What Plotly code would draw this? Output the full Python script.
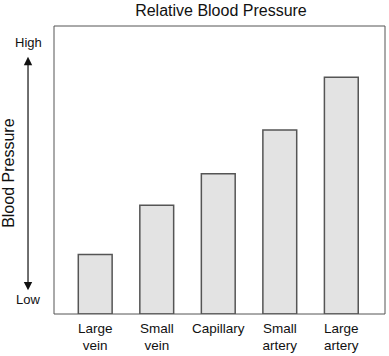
import plotly.graph_objects as go

categories = ["Large<br>vein", "Small<br>vein", "Capillary", "Small<br>artery", "Large<br>artery"]
pressure = [20.7, 37.8, 48.7, 63.9, 82.2]

FONT = "Liberation Sans, Arial, sans-serif"

fig = go.Figure(go.Bar(
    x=list(range(len(categories))),
    y=pressure,
    width=0.55,
    marker=dict(color="#e3e3e3", line=dict(color="#555555", width=1.5)),
))

fig.update_layout(
    width=389, height=356,
    margin=dict(l=54, r=4, t=26, b=42),
    paper_bgcolor="white", plot_bgcolor="white",
    showlegend=False,
    font=dict(family=FONT, size=13, color="#111111"),
    title=dict(text="Relative Blood Pressure", x=0.568, xanchor="center",
               y=0.972, yanchor="middle", font=dict(size=16, family=FONT, color="#111111")),
    xaxis=dict(range=[-0.67, 4.71], tickmode="array",
               tickvals=list(range(len(categories))), ticktext=categories,
               showgrid=False, zeroline=False, showline=False, ticks="",
               ticklabelstandoff=4, tickfont=dict(size=13.5)),
    yaxis=dict(range=[0, 100], showticklabels=False, showgrid=False,
               zeroline=False, showline=False, ticks=""),
    shapes=[dict(type="rect", xref="paper", yref="paper", x0=0, x1=1, y0=0, y1=1,
                 line=dict(color="#555555", width=1))],
    annotations=[
        dict(xref="paper", yref="paper", x=-0.0785, y=0.893, ax=0, ay=235,
             text="", showarrow=True, arrowhead=2, arrowside="end+start",
             arrowsize=1.4, arrowwidth=1.2, arrowcolor="#111111"),
        dict(xref="paper", yref="paper", x=-0.0785, y=0.941, text="High",
             showarrow=False, font=dict(size=13), xanchor="center", yanchor="middle"),
        dict(xref="paper", yref="paper", x=-0.0785, y=0.049, text="Low",
             showarrow=False, font=dict(size=13), xanchor="center", yanchor="middle"),
        dict(xref="paper", yref="paper", x=-0.136, y=0.49, text="Blood Pressure",
             textangle=-90, showarrow=False, font=dict(size=16),
             xanchor="center", yanchor="middle"),
    ],
)

fig.write_html("out.html", config={"displayModeBar": False},
               post_script="document.body.style.margin='0';document.body.style.overflow='hidden';")
